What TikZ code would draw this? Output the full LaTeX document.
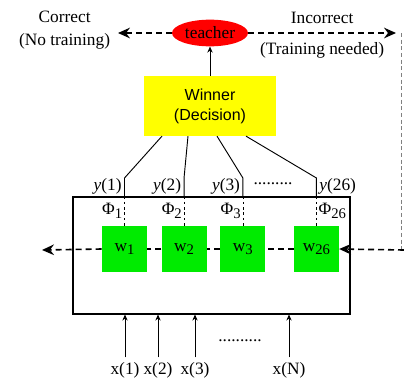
\documentclass[tikz,border=0pt]{standalone}
\usepackage{fontspec}
\setmainfont{Liberation Serif}
\setsansfont{Liberation Sans}
\usetikzlibrary{shapes,arrows.meta,positioning,calc}
\definecolor{winnerfill}{RGB}{255,255,0}
\definecolor{weightfill}{RGB}{0,235,0}
\definecolor{teacherfill}{RGB}{255,0,0}
\newcommand{\lowidx}[1]{\raisebox{-0.45ex}{\fontsize{11}{11}\selectfont #1}}

\begin{document}
\begin{tikzpicture}[
    x=0.75pt, y=-0.75pt,
    font=\fontsize{13}{17}\selectfont,
    teacherbox/.style={ellipse, fill=teacherfill, minimum width=57pt, minimum height=20pt, inner sep=0pt},
    decider/.style={rectangle, fill=winnerfill, minimum width=99pt, minimum height=45pt, align=center, font=\sffamily\fontsize{12}{15}\selectfont},
    weight/.style={rectangle, fill=weightfill, minimum width=33.75pt, minimum height=34.5pt, inner sep=0pt},
    layerbox/.style={rectangle, draw, line width=0.8pt, minimum width=207.75pt, minimum height=87.75pt},
    signal/.style={dash pattern=on 4.5pt off 3pt, line width=1.2pt},
    sigarrow/.style={signal, -{Stealth[length=9pt,width=8pt,inset=3pt]}},
    wire/.style={line width=0.7pt},
    feed/.style={wire, -{Stealth[length=4.5pt,width=4pt]}}
]
\useasboundingbox (0,0) rectangle (404,379);

\node[teacherbox] (teacher) at (210,33) {teacher};
\node[decider, below=21.75pt of teacher] (winner) {Winner\\(Decision)};

% output layer with the weight vectors
\node[layerbox] (layer) at (211.5,255.5) {};
\node[weight] (w1) at (124.5,249) {w\lowidx{1}};
\node[weight, right=10.5pt of w1] (w2) {w\lowidx{2}};
\node[weight, right=10pt of w2] (w3) {w\lowidx{3}};
\node[weight, right=21pt of w3] (w26) {w\lowidx{26}};

% outputs into the winner box
\foreach \w/\n/\off/\side in {w1/1/-36pt/east, w2/2/-16.5pt/east, w3/3/5.25pt/east, w26/26/27pt/west} {
  \coordinate (\w-bend) at (\w.north |- 0,178);
  \draw[wire] ([xshift=\off]winner.south) -- (\w-bend) -- (\w.north |- layer.north);
  \draw[thin, dash pattern=on 2pt off 2pt] (\w.north |- layer.north) -- (\w.north);
  \node[anchor=\side, inner sep=2pt] (ylab-\n) at (\w.north |- 0,186) {\textit{y}(\n)};
  \node[anchor=north \side, inner sep=1.5pt] (phi-\n) at (\w.north |- 0,201) {Φ\lowidx{\n}};
}
\node (ydots) at (273,184) {.........};

% inputs
\foreach \n/\lbl/\xx in {in1/1/125, in2/2/158, in3/3/195, inN/N/289} {
  \node (\n) at (\xx,370) {x(\lbl)};
  \draw[feed] (\n.north) -- (\n.north |- layer.south);
}
\node (xdots) at (240,341) {..........};

\draw[feed] (winner.north) -- (teacher.south);

% training signal
\coordinate (ltip) at (118,33);
\coordinate (rtip) at (396,33);
\coordinate (rtop) at (401,33);
\coordinate (rbot) at (401,250);
\coordinate (rin) at (404,250);
\coordinate (lout) at (42,250);
\draw[sigarrow] (teacher.west) -- (ltip)
  node[anchor=east, align=center, xshift=-2pt, yshift=2pt] (correct) {Correct\\(No training)};
\draw[sigarrow] (teacher.east) -- (rtip)
  node[midway, above=3pt] (incorrect) {Incorrect}
  node[midway, below=3pt] (needed) {(Training needed)};
\draw[gray, thin, dash pattern=on 3pt off 2pt] (rtop) -- (rbot);
\draw[sigarrow] (rin) -- (w26.east);
\draw[signal] (w26.west) -- (w3.east);
\draw[signal] (w3.west) -- (w2.east);
\draw[signal] (w2.west) -- (w1.east);
\draw[sigarrow] (w1.west) -- (lout);

\end{tikzpicture}
\end{document}
